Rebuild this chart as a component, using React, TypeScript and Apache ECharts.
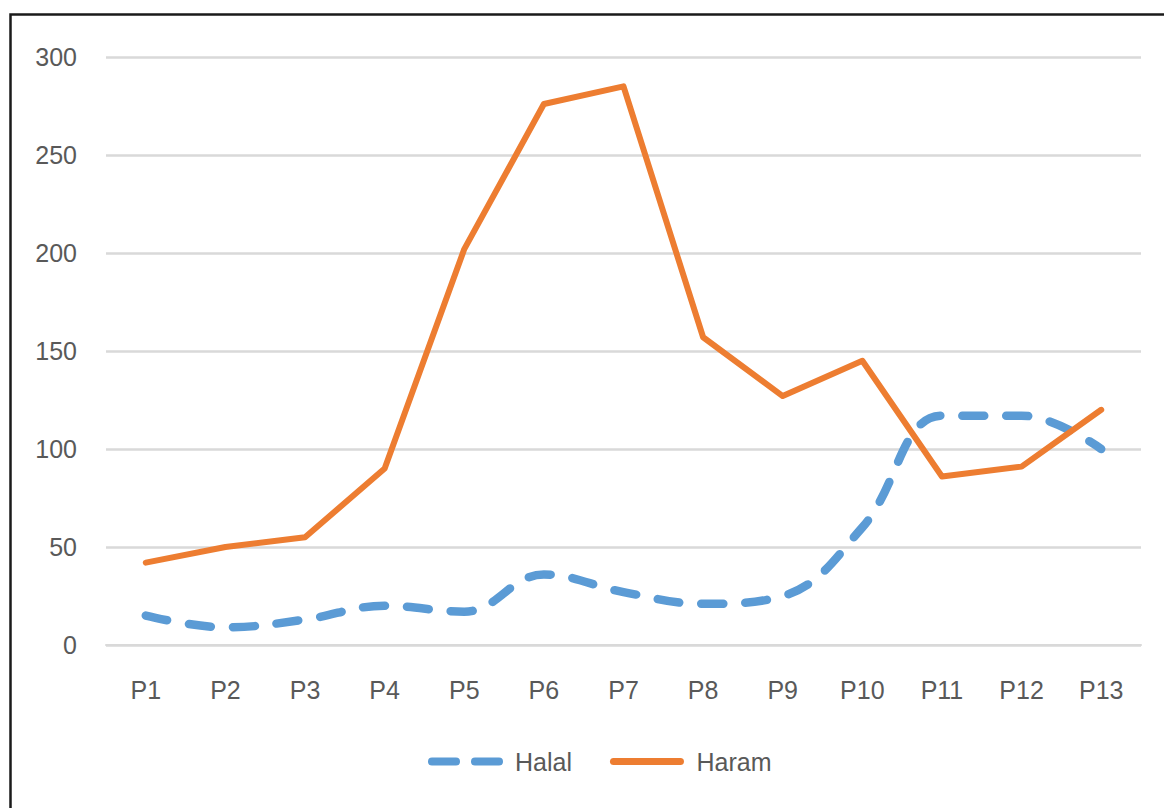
import React, { useEffect, useRef } from "react";
import * as echarts from "echarts";

const categories = ["P1", "P2", "P3", "P4", "P5", "P6", "P7", "P8", "P9", "P10", "P11", "P12", "P13"];
const halal = [15, 9, 13, 20, 17, 36, 27, 21, 25, 60, 117, 117, 100];
const haram = [42, 50, 55, 90, 202, 276, 285, 157, 127, 145, 86, 91, 120];
const yTicks = { min: 0, max: 300, interval: 50 };

const FONT = "'Liberation Sans', Arial, sans-serif";
const BLUE = "#5B9BD5";
const ORANGE = "#ED7D31";

export default function App() {
  const ref = useRef<HTMLDivElement>(null);
  useEffect(() => {
    if (!ref.current) return;
    const chart = echarts.init(ref.current, null, { renderer: "svg" });
    chart.setOption({
      animation: false,
      backgroundColor: "#ffffff",
      graphic: [
        {
          type: "rect",
          shape: { x: 10.5, y: 14.5, width: 1300, height: 900 },
          style: { fill: "none", stroke: "#1a1a1a", lineWidth: 2.5 },
          silent: true,
        },
      ],
      grid: { left: 106, right: 23, top: 57, bottom: 163, containLabel: false },
      legend: {
        left: 423,
        top: 744,
        itemWidth: 67,
        itemHeight: 16,
        itemGap: 38,
        data: [
          {
            name: "Halal",
            itemStyle: { opacity: 0 },
            lineStyle: { color: BLUE, width: 8, type: [24, 19], cap: "round" },
          },
          {
            name: "Haram",
            itemStyle: { opacity: 0 },
            lineStyle: { color: ORANGE, width: 7, type: "solid", cap: "round" },
          },
        ],
        textStyle: { fontFamily: FONT, fontSize: 25, color: "#595959", padding: [0, 0, 0, 11] },
      },
      xAxis: {
        type: "category",
        data: categories,
        boundaryGap: true,
        axisLine: { show: true, lineStyle: { color: "#D9D9D9", width: 2 } },
        axisTick: { show: false },
        axisLabel: { fontFamily: FONT, fontSize: 25, color: "#595959", margin: 32 },
      },
      yAxis: {
        type: "value",
        min: yTicks.min,
        max: yTicks.max,
        interval: yTicks.interval,
        axisLine: { show: false },
        axisTick: { show: false },
        splitLine: { lineStyle: { color: "#D9D9D9", width: 2.5 } },
        axisLabel: { fontFamily: FONT, fontSize: 25, color: "#595959", margin: 29 },
      },
      series: [
        {
          name: "Halal",
          type: "line",
          data: halal,
          smooth: 0.4,
          symbol: "none",
          showSymbol: false,
          color: BLUE,
          lineStyle: { color: BLUE, width: 8.5, type: [22, 22], cap: "round", join: "round" },
        },
        {
          name: "Haram",
          type: "line",
          data: haram,
          symbol: "none",
          showSymbol: false,
          color: ORANGE,
          lineStyle: { color: ORANGE, width: 6, cap: "round", join: "round" },
        },
      ],
    });
    return () => chart.dispose();
  }, []);
  return (
    <div
      ref={ref}
      style={{ position: "absolute", left: 0, top: 0, width: 1164, height: 808 }}
    />
  );
}
